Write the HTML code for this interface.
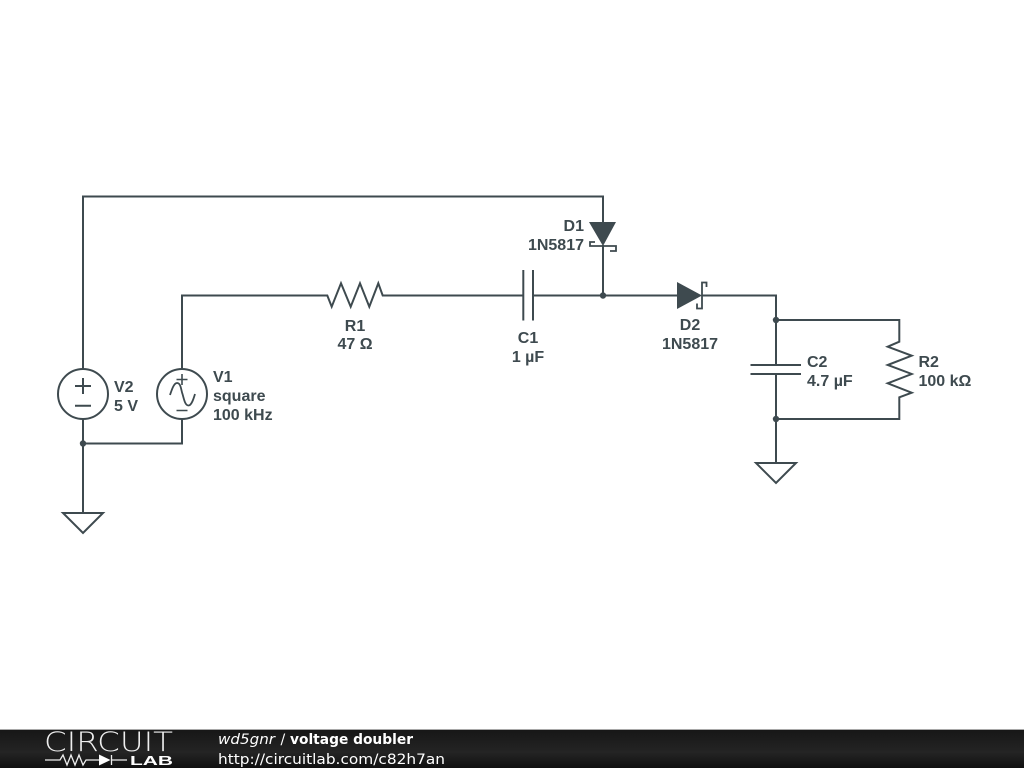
<!DOCTYPE html>
<html><head><meta charset="utf-8"><style>
html,body{margin:0;padding:0;background:#fff;width:1024px;height:768px;overflow:hidden}
svg{display:block}
.w{fill:none;stroke:#3e4a4f;stroke-width:2}
.t{font-family:"Liberation Sans",sans-serif;font-size:16px;font-weight:bold;fill:#3e4a4f}
.f{font-family:"DejaVu Sans",sans-serif;font-size:14px;fill:#fff}
</style></head><body>
<svg width="1024" height="768" viewBox="0 0 1024 768" xmlns="http://www.w3.org/2000/svg">
<defs><linearGradient id="g" x1="0" y1="0" x2="0" y2="1"><stop offset="0" stop-color="#161616"/><stop offset="0.6" stop-color="#242424"/><stop offset="1" stop-color="#101010"/></linearGradient></defs>
<rect width="1024" height="768" fill="#fff"/>
<g class="w">
<path d="M83,369V196.5H603V222"/>
<path d="M603,245V295.5"/>
<path d="M182,369V295.5H327.3L331.7,306.7L341,283.3L350.7,306.7L360,283.3L369.3,306.7L378.3,283.3L382.7,295.5H523.3"/>
<path d="M523.3,270V320.5M533,270V320.5"/>
<path d="M533,295.5H677M702,295.5H776V365"/>
<path d="M750.5,365H801M750.5,374H801"/>
<path d="M776,374V463"/>
<path d="M776,320H899.3V341.7L887.7,346.7L911.7,355.7L887.7,365L911.7,374L887.7,383.3L911.7,392.7L899.3,397.3V419H776"/>
<path d="M756,463H796L776,483Z"/>
<path d="M83,419V513M83,443.5H182V419"/>
<path d="M63,513H103L83,533Z"/>
<circle cx="83" cy="394" r="25"/>
<circle cx="182" cy="394" r="25"/>
<path d="M75,386H91M83,378V394M75,405.7H91"/>
<path d="M176.5,379.5H187.5M182,374V385M176.5,410.5H187.5" stroke-width="1.6"/>
<path d="M170,395C172,389 174,383 177,383C181,383 181,390 182.5,394C184,399 185,405.5 188.5,405.5C191.5,405.5 193.5,399 195,394" stroke-width="1.8"/>
<path d="M595,242H590V246H616V251H610" stroke-width="1.8"/>
<path d="M706.5,287V282.5H702V308.5H697V303.5" stroke-width="1.8"/>
</g>
<g fill="#3e4a4f">
<path d="M589,222H616L603,246Z"/>
<path d="M677,282V309L702,295.5Z"/>
<circle cx="603" cy="295.5" r="3.2"/>
<circle cx="776" cy="320" r="3.2"/>
<circle cx="776" cy="419" r="3.2"/>
<circle cx="83" cy="443.5" r="3.2"/>
</g>
<g class="t">
<text x="584" y="231" text-anchor="end">D1</text>
<text x="584" y="250" text-anchor="end">1N5817</text>
<text x="355" y="331" text-anchor="middle">R1</text>
<text x="355" y="349" text-anchor="middle">47 Ω</text>
<text x="528" y="343" text-anchor="middle">C1</text>
<text x="528" y="362" text-anchor="middle">1 µF</text>
<text x="690" y="330" text-anchor="middle">D2</text>
<text x="690" y="349" text-anchor="middle">1N5817</text>
<text x="114" y="392">V2</text>
<text x="114" y="411">5 V</text>
<text x="213" y="382">V1</text>
<text x="213" y="401">square</text>
<text x="213" y="420">100 kHz</text>
<text x="807" y="367">C2</text>
<text x="807" y="386">4.7 µF</text>
<text x="918.5" y="367">R2</text>
<text x="918.5" y="386">100 kΩ</text>
</g>
<rect x="0" y="729" width="1024" height="39" fill="url(#g)"/>
<rect x="0" y="729" width="1024" height="1" fill="#a8a8a8"/>
<text x="44" y="751" font-family="'DejaVu Sans',sans-serif" font-weight="200" font-size="27" fill="#eee" textLength="129" lengthAdjust="spacingAndGlyphs">CIRCUIT</text>
<path d="M45,760H60L63,755L67,765L71,755L75,765L79,755L83,765L86,760H99M111.5,755V765M111.5,760H127" stroke="#eee" stroke-width="1.3" fill="none"/>
<path d="M99,754.5V765.5L110.5,760Z" fill="#fff"/>
<text x="130" y="765" font-family="'Liberation Sans',sans-serif" font-weight="bold" font-size="13" fill="#fff" textLength="43" lengthAdjust="spacingAndGlyphs">LAB</text>
<text class="f" x="218" y="744" font-style="italic" textLength="57" lengthAdjust="spacingAndGlyphs">wd5gnr</text>
<text class="f" x="280.5" y="744">/</text>
<text class="f" x="290" y="744" font-weight="bold" textLength="123" lengthAdjust="spacingAndGlyphs">voltage doubler</text>
<text class="f" x="218" y="764" textLength="227" lengthAdjust="spacingAndGlyphs">http://circuitlab.com/c82h7an</text>
</svg>
</body></html>
